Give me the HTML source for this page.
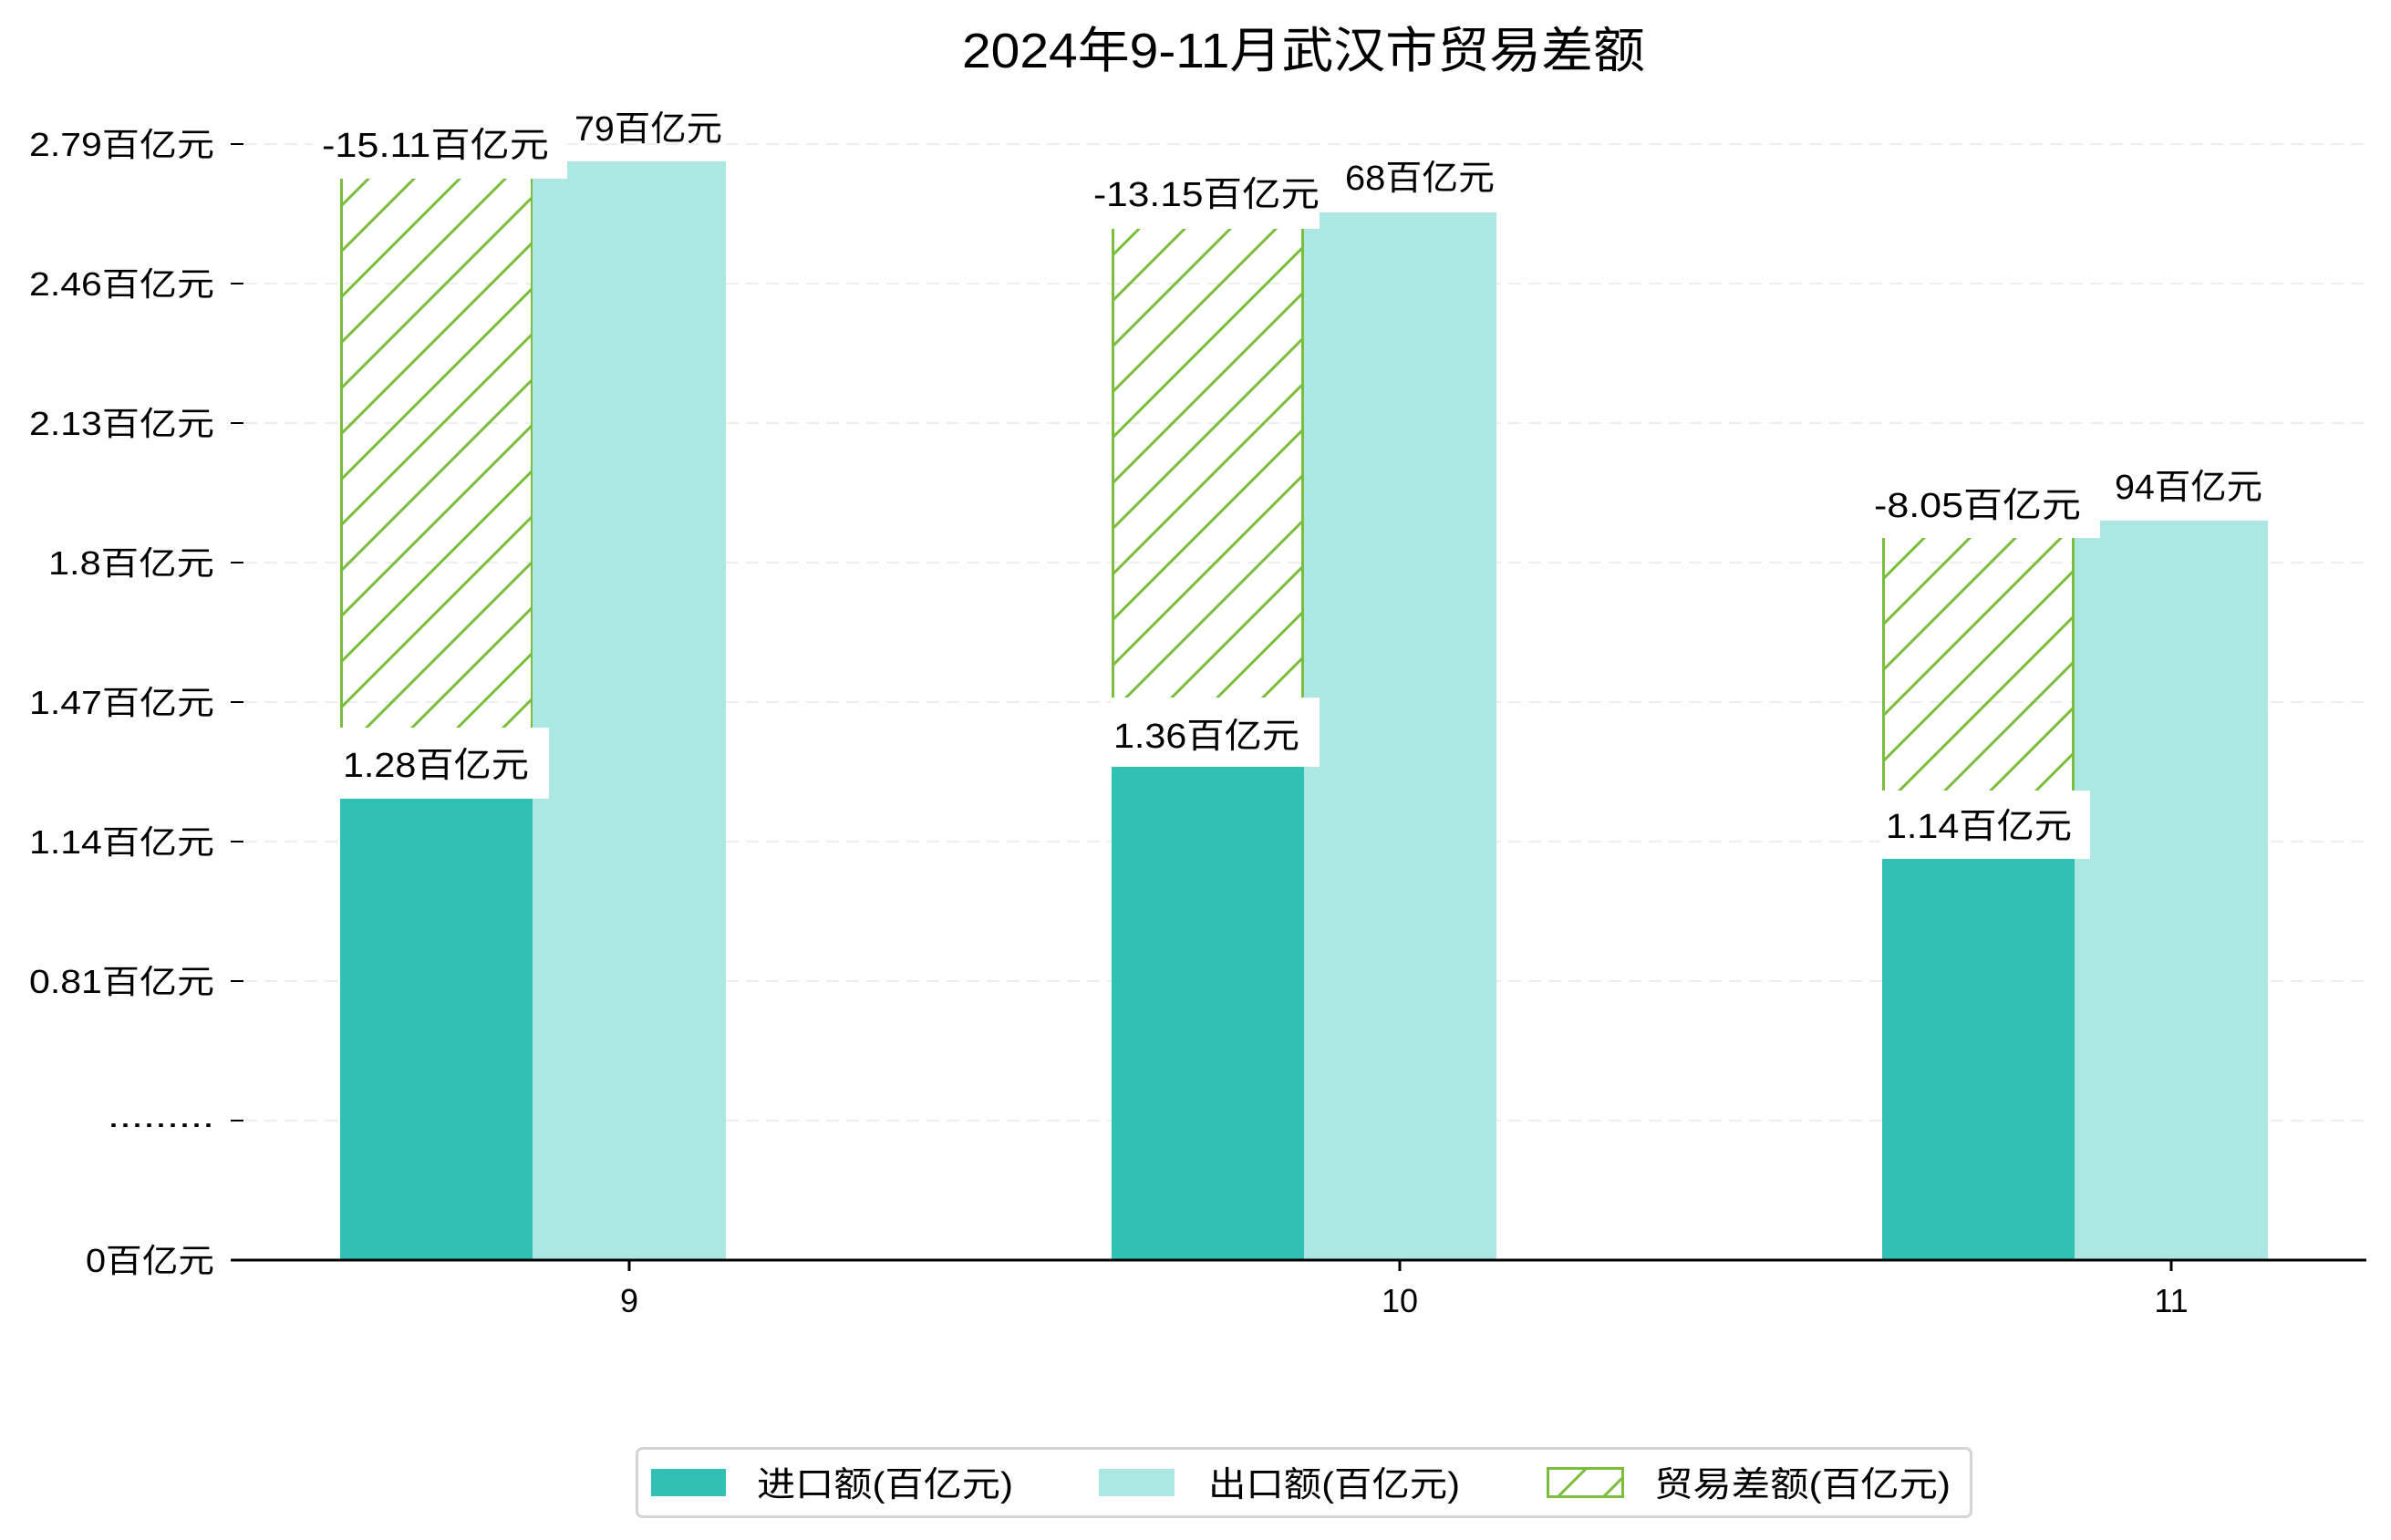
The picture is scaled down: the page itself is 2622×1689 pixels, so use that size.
<!DOCTYPE html>
<html><head><meta charset="utf-8"><style>
html,body{margin:0;padding:0;background:#fff;}
svg{display:block;}
text{font-family:"Liberation Sans","Noto Sans CJK SC",sans-serif;fill:#000;}
</style></head><body>
<svg width="2622" height="1689" viewBox="0 0 2622 1689" xmlns="http://www.w3.org/2000/svg">
<defs>
<pattern id="h" patternUnits="userSpaceOnUse" width="50" height="50">
<path d="M-10,10 L10,-10 M0,50 L50,0 M40,60 L60,40" stroke="#7bbd3f" stroke-width="3"/>
</pattern>
</defs>
<g stroke="#eeeeee" stroke-width="2" stroke-dasharray="14,8">
<line x1="268" y1="158" x2="2600" y2="158"/>
<line x1="268" y1="311" x2="2600" y2="311"/>
<line x1="268" y1="464" x2="2600" y2="464"/>
<line x1="268" y1="617" x2="2600" y2="617"/>
<line x1="268" y1="770" x2="2600" y2="770"/>
<line x1="268" y1="923" x2="2600" y2="923"/>
<line x1="268" y1="1076" x2="2600" y2="1076"/>
<line x1="268" y1="1229" x2="2600" y2="1229"/>
</g>
<g stroke="#000" stroke-width="2">
<line x1="253" y1="158" x2="267" y2="158"/>
<line x1="253" y1="311" x2="267" y2="311"/>
<line x1="253" y1="464" x2="267" y2="464"/>
<line x1="253" y1="617" x2="267" y2="617"/>
<line x1="253" y1="770" x2="267" y2="770"/>
<line x1="253" y1="923" x2="267" y2="923"/>
<line x1="253" y1="1076" x2="267" y2="1076"/>
<line x1="253" y1="1229" x2="267" y2="1229"/>
</g>
<g font-size="36">
<text x="32" y="171" textLength="203" lengthAdjust="spacingAndGlyphs">2.79百亿元</text>
<text x="32" y="324" textLength="203" lengthAdjust="spacingAndGlyphs">2.46百亿元</text>
<text x="32" y="477" textLength="203" lengthAdjust="spacingAndGlyphs">2.13百亿元</text>
<text x="53" y="630" textLength="182" lengthAdjust="spacingAndGlyphs">1.8百亿元</text>
<text x="32" y="783" textLength="203" lengthAdjust="spacingAndGlyphs">1.47百亿元</text>
<text x="32" y="936" textLength="203" lengthAdjust="spacingAndGlyphs">1.14百亿元</text>
<text x="32" y="1089" textLength="203" lengthAdjust="spacingAndGlyphs">0.81百亿元</text>
<text x="118" y="1236" textLength="117" lengthAdjust="spacingAndGlyphs">.........</text>
<text x="94" y="1395" textLength="141" lengthAdjust="spacingAndGlyphs">0百亿元</text>
</g>
<g>
<rect x="373" y="196" width="211" height="680" fill="url(#h)"/>
<line x1="374.5" y1="196" x2="374.5" y2="876" stroke="#7bbd3f" stroke-width="3"/>
<line x1="583.5" y1="196" x2="583.5" y2="876" stroke="#7bbd3f" stroke-width="3"/>
<rect x="373" y="876" width="211" height="506" fill="#31c0b4"/>
<rect x="584" y="177" width="212" height="1205" fill="#abe8e2"/>

<rect x="1219" y="251" width="211" height="590" fill="url(#h)"/>
<line x1="1220.5" y1="251" x2="1220.5" y2="841" stroke="#7bbd3f" stroke-width="3"/>
<line x1="1428.5" y1="251" x2="1428.5" y2="841" stroke="#7bbd3f" stroke-width="3"/>
<rect x="1219" y="841" width="211" height="541" fill="#31c0b4"/>
<rect x="1430" y="233" width="211" height="1149" fill="#abe8e2"/>

<rect x="2064" y="590" width="211" height="352" fill="url(#h)"/>
<line x1="2065.5" y1="590" x2="2065.5" y2="942" stroke="#7bbd3f" stroke-width="3"/>
<line x1="2273.5" y1="590" x2="2273.5" y2="942" stroke="#7bbd3f" stroke-width="3"/>
<rect x="2064" y="942" width="211" height="440" fill="#31c0b4"/>
<rect x="2275" y="571" width="212" height="811" fill="#abe8e2"/>
</g>
<g fill="#fff">
<rect x="343" y="128" width="279" height="68"/>
<rect x="373" y="798" width="229" height="78"/>
<rect x="1190" y="182" width="257" height="69"/>
<rect x="1219" y="765" width="228" height="76"/>
<rect x="2045" y="520" width="258" height="70"/>
<rect x="2062" y="867" width="230" height="75"/>
</g>
<g font-size="38">
<text x="353" y="172" textLength="249" lengthAdjust="spacingAndGlyphs">-15.11百亿元</text>
<text x="630" y="154" textLength="162" lengthAdjust="spacingAndGlyphs">79百亿元</text>
<text x="376" y="852" textLength="204" lengthAdjust="spacingAndGlyphs">1.28百亿元</text>
<text x="1199" y="226" textLength="248" lengthAdjust="spacingAndGlyphs">-13.15百亿元</text>
<text x="1475" y="208" textLength="164" lengthAdjust="spacingAndGlyphs">68百亿元</text>
<text x="1221" y="820" textLength="204" lengthAdjust="spacingAndGlyphs">1.36百亿元</text>
<text x="2055" y="567" textLength="227" lengthAdjust="spacingAndGlyphs">-8.05百亿元</text>
<text x="2319" y="547" textLength="162" lengthAdjust="spacingAndGlyphs">94百亿元</text>
<text x="2068" y="919" textLength="204" lengthAdjust="spacingAndGlyphs">1.14百亿元</text>
</g>
<line x1="253" y1="1382" x2="2595" y2="1382" stroke="#000" stroke-width="3"/>
<g stroke="#000" stroke-width="3">
<line x1="690" y1="1382" x2="690" y2="1394"/>
<line x1="1535" y1="1382" x2="1535" y2="1394"/>
<line x1="2381" y1="1382" x2="2381" y2="1394"/>
</g>
<g font-size="36" text-anchor="middle">
<text x="690" y="1439">9</text>
<text x="1535" y="1439">10</text>
<text x="2381" y="1439">11</text>
</g>
<text x="1055" y="74" font-size="54" textLength="749" lengthAdjust="spacingAndGlyphs">2024年9-11月武汉市贸易差额</text>
<rect x="698.5" y="1588.5" width="1463" height="75" rx="6" fill="#fff" stroke="#d4d4d4" stroke-width="3"/>
<rect x="714" y="1611" width="82" height="30" fill="#31c0b4"/>
<rect x="1205" y="1611" width="83" height="30" fill="#abe8e2"/>
<rect x="1697.5" y="1610.5" width="82" height="31" fill="url(#h)" stroke="#7bbd3f" stroke-width="3"/>
<g font-size="38">
<text x="830" y="1641" textLength="281" lengthAdjust="spacingAndGlyphs">进口额(百亿元)</text>
<text x="1325" y="1641" textLength="276" lengthAdjust="spacingAndGlyphs">出口额(百亿元)</text>
<text x="1814" y="1641" textLength="325" lengthAdjust="spacingAndGlyphs">贸易差额(百亿元)</text>
</g>
</svg>
</body></html>
